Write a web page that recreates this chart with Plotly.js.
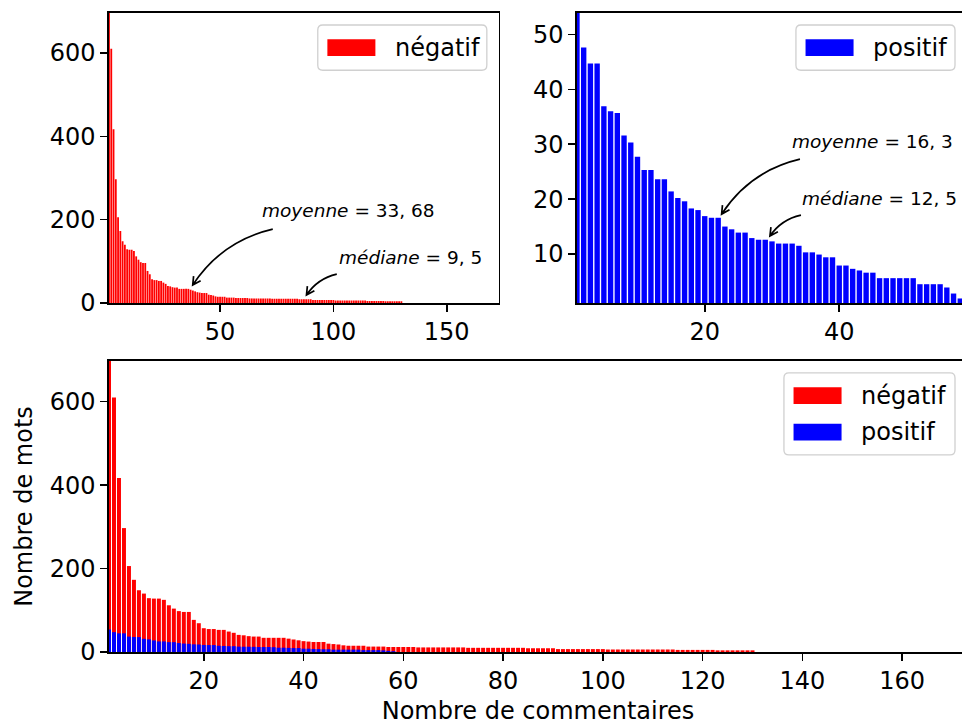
<!DOCTYPE html>
<html>
<head>
<meta charset="utf-8">
<script src="https://cdn.plot.ly/plotly-3.0.1.min.js"></script>
<style>
html,body{margin:0;padding:0;overflow:hidden;background:#fff;width:962px;height:725px;}
#chart{width:970px;height:725px;}
</style>
</head>
<body>
<div id="chart"></div>
<script>
// ---- data ----
const negLabel = 'négatif';
const posLabel = 'positif';
const negValues = [920, 610, 417, 297, 206, 173, 148, 140, 129, 128, 128, 125, 112, 104, 98, 96, 96, 77, 69, 57,
  55, 55, 53, 53, 49, 46, 41, 40, 38, 37, 37, 34, 34, 34, 34, 34, 32, 30, 28, 26,
  25, 24, 24, 24, 20, 19, 18, 16, 15, 15, 15, 15, 13, 13, 13, 13, 12, 12, 12, 12,
  12, 12, 11, 11, 11, 11, 11, 11, 11, 11, 11, 11, 10, 10, 10, 10, 10, 10, 10, 10,
  10, 10, 10, 10, 9, 9, 9, 9, 9, 9, 7, 7, 7, 7, 7, 7, 7, 7, 7, 7,
  6, 6, 6, 6, 6, 6, 6, 6, 6, 6, 6, 6, 6, 6, 5, 5, 5, 5, 5, 5,
  5, 5, 4, 4, 4, 4, 4, 4, 4, 4];
const posValues = [54, 47.6, 44.7, 44.7, 36.9, 36.0, 35.7, 31.6, 30.3, 27.7, 25.3, 25.3, 23.6, 23.6, 21.4, 20.2, 19.6, 18.3, 18.0, 16.9,
  16.6, 16.6, 15.0, 14.5, 13.9, 13.9, 12.9, 12.6, 12.6, 12.3, 11.9, 11.9, 11.9, 11.5, 10.3, 10.3, 9.9, 9.4, 9.4, 7.9,
  7.9, 7.3, 7.0, 6.6, 6.6, 5.6, 5.6, 5.6, 5.6, 5.6, 5.6, 4.5, 4.5, 4.5, 4.5, 3.9, 2.8, 1.9];
const negIndex = negValues.map((v, i) => i + 1);
const posIndex = posValues.map((v, i) => i + 1);
const nNeg = 172, nPos = 58;
const negMean = '33, 68', negMedian = '9, 5';
const posMean = '16, 3', posMedian = '12, 5';
const xTitle = 'Nombre de commentaires';
const yTitle = 'Nombre de mots';

// ---- geometry helpers (pixel -> paper) ----
const W = 970, H = 725;
const L = 109.3, R = 967, T = 12.7, B = 652.3;
function px(x) { return (x - L) / (R - L); }
function py(y) { return 1 - (y - T) / (B - T); }
function P(x, y) { return px(x).toFixed(5) + ',' + py(y).toFixed(5); }

const FONT = 'DejaVu Sans';
const RED = '#ff0000', BLUE = '#0000ff';

const shapes = [];
const annotations = [];

function roundRect(x0, y0, x1, y1, r) {
  return 'M' + P(x0 + r, y0) + ' L' + P(x1 - r, y0) + ' Q' + P(x1, y0) + ' ' + P(x1, y0 + r) +
    ' L' + P(x1, y1 - r) + ' Q' + P(x1, y1) + ' ' + P(x1 - r, y1) +
    ' L' + P(x0 + r, y1) + ' Q' + P(x0, y1) + ' ' + P(x0, y1 - r) +
    ' L' + P(x0, y0 + r) + ' Q' + P(x0, y0) + ' ' + P(x0 + r, y0) + ' Z';
}

function legendBox(right, top, width, entries) {
  const h = entries.length === 1 ? 45.3 : 82;
  const left = right - width;
  shapes.push({type: 'path', xref: 'paper', yref: 'paper', path: roundRect(left, top, right, top + h, 5),
    fillcolor: 'rgba(255,255,255,0.8)', line: {color: '#d0d0d0', width: 1.3}, layer: 'above'});
  entries.forEach((e, i) => {
    const cy = top + 22.6 + i * 36.7;
    shapes.push({type: 'rect', xref: 'paper', yref: 'paper',
      x0: px(left + 9.6), x1: px(left + 57.6), y0: py(cy - 8.4), y1: py(cy + 8.4),
      fillcolor: e.color, line: {width: 0}, layer: 'above'});
    annotations.push({xref: 'paper', yref: 'paper', x: px(left + 75), y: py(cy), xanchor: 'left', yanchor: 'middle',
      text: e.label, showarrow: false, font: {family: FONT, size: 24, color: '#000'}});
  });
}

function curvedArrow(tail, tip, rad) {
  const dx = tip[0] - tail[0], dy = tip[1] - tail[1];
  const mx = (tail[0] + tip[0]) / 2, my = (tail[1] + tip[1]) / 2;
  const cx = mx - rad * dy, cy = my + rad * dx;
  let tx = tip[0] - cx, ty = tip[1] - cy;
  const len = Math.hypot(tx, ty); tx /= len; ty /= len;
  const hl = 8, hw = 4.2;
  const a1 = [tip[0] - hl * tx + hw * ty, tip[1] - hl * ty - hw * tx];
  const a2 = [tip[0] - hl * tx - hw * ty, tip[1] - hl * ty + hw * tx];
  const path = 'M' + P(tail[0], tail[1]) + ' Q' + P(cx, cy) + ' ' + P(tip[0], tip[1]) +
    ' M' + P(a1[0], a1[1]) + ' L' + P(tip[0], tip[1]) + ' L' + P(a2[0], a2[1]);
  shapes.push({type: 'path', xref: 'paper', yref: 'paper', path: path, line: {color: '#000', width: 1.7}, layer: 'above'});
}

function label(x, y, word, val) {
  annotations.push({xref: 'paper', yref: 'paper', x: px(x), y: py(y), xanchor: 'left', yanchor: 'middle',
    text: '<i>' + word + '</i> = ' + val, showarrow: false, font: {family: FONT, size: 18.5, color: '#000'}});
}

// annotations (text + curved arrows)
label(260, 210, 'moyenne', negMean);
curvedArrow([273, 229], [193, 285], 0.2);
label(337, 257, 'médiane', negMedian);
curvedArrow([337, 274], [306.7, 295], 0.2);
label(790, 141, 'moyenne', posMean);
curvedArrow([800, 159], [721.7, 214], 0.2);
label(800.5, 198, 'médiane', posMedian);
curvedArrow([801, 215], [770, 236], 0.2);

// legends
legendBox(487, 24.7, 169, [{label: negLabel, color: RED}]);
legendBox(955, 24.7, 159, [{label: posLabel, color: BLUE}]);
legendBox(955, 373, 171, [{label: negLabel, color: RED}, {label: posLabel, color: BLUE}]);

const traces = [
  {type: 'bar', x: negIndex, y: negValues, xaxis: 'x', yaxis: 'y', name: negLabel, marker: {color: RED, line: {width: 0}}, showlegend: false},
  {type: 'bar', x: posIndex, y: posValues, xaxis: 'x2', yaxis: 'y2', name: posLabel, marker: {color: BLUE, line: {width: 0}}, showlegend: false},
  {type: 'bar', x: negIndex, y: negValues, xaxis: 'x3', yaxis: 'y3', name: negLabel, marker: {color: RED, line: {width: 0}}, showlegend: false},
  {type: 'bar', x: posIndex, y: posValues, xaxis: 'x3', yaxis: 'y3', name: posLabel, marker: {color: BLUE, line: {width: 0}}, showlegend: false}
];

function ax(extra) {
  return Object.assign({
    showline: true, mirror: true, linecolor: '#000', linewidth: 1.6,
    ticks: 'outside', ticklen: 7, tickwidth: 1.6, tickcolor: '#000',
    showgrid: false, zeroline: false, fixedrange: true,
    tickfont: {family: FONT, size: 24, color: '#000'}
  }, extra);
}

const topY0 = py(303);
const botY1 = py(361);

const layout = {
  width: W, height: H,
  margin: {l: L, r: W - R, t: T, b: H - B, pad: 0},
  paper_bgcolor: '#fff', plot_bgcolor: '#fff',
  barmode: 'overlay', bargap: 0.2,
  showlegend: false,
  font: {family: FONT, size: 24, color: '#000'},
  xaxis: ax({domain: [0, px(499)], anchor: 'y', range: [1, nNeg + 1], tick0: 0, dtick: 50}),
  yaxis: ax({domain: [topY0, 1], anchor: 'x', range: [0, 696], tick0: 0, dtick: 200}),
  xaxis2: ax({domain: [px(577.1), 1], anchor: 'y2', range: [1, nPos + 1], tick0: 0, dtick: 20}),
  yaxis2: ax({domain: [topY0, 1], anchor: 'x2', range: [1.07, 53.9], tick0: 0, dtick: 10}),
  xaxis3: ax({domain: [0, 1], anchor: 'y3', range: [1, nNeg + 1], tick0: 0, dtick: 20,
    title: {text: xTitle, font: {family: FONT, size: 24, color: '#000'}, standoff: 8}}),
  yaxis3: ax({domain: [0, botY1], anchor: 'x3', range: [0, 697.5], tick0: 0, dtick: 200,
    title: {text: yTitle, font: {family: FONT, size: 24, color: '#000'}, standoff: 10}}),
  shapes: shapes,
  annotations: annotations
};

Plotly.newPlot('chart', traces, layout, {displayModeBar: false, staticPlot: true});
</script>
</body>
</html>
